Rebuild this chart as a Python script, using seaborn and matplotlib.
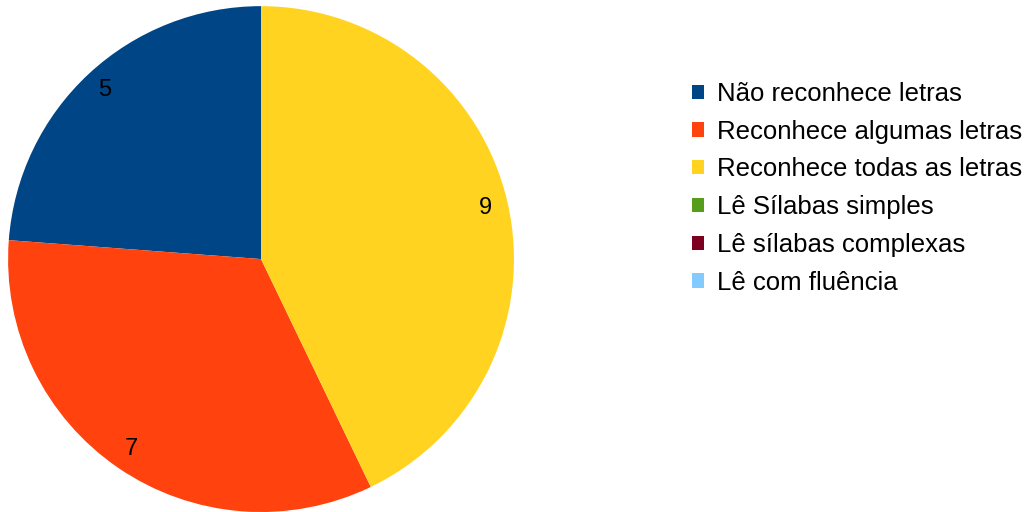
import matplotlib.pyplot as plt
import seaborn as sns

sns.set_theme(style="white")
plt.rcParams['font.family'] = ['Liberation Sans', 'DejaVu Sans']
plt.rcParams['text.color'] = 'black'

# dados
categorias = ["Não reconhece letras", "Reconhece algumas letras", "Reconhece todas as letras",
              "Lê Sílabas simples", "Lê sílabas complexas", "Lê com fluência"]
valores = [5, 7, 9, 0, 0, 0]
cores = ["#004586", "#ff420e", "#ffd320", "#579d1c", "#7e0021", "#83caff"]

total = sum(valores)


def rotulo(pct):
    v = int(round(pct * total / 100))
    return str(v) if v > 0 else ""


fig = plt.figure(figsize=(10.35, 5.12), dpi=100)
ax = fig.add_axes([0.0077, 0.0, 0.489, 0.988])

wedges, textos, numeros = ax.pie(valores, colors=cores, startangle=90, counterclock=True,
                                 autopct=rotulo, pctdistance=0.91, radius=1,
                                 wedgeprops={"linewidth": 0},
                                 textprops={"fontsize": 17, "color": "black"})
ax.set_xlim(-1, 1)
ax.set_ylim(-1, 1)
ax.set_aspect("equal")

fig.legend(wedges, categorias, loc="upper left", bbox_to_anchor=(0.6686, 0.840),
           frameon=False, fontsize=18.5, handlelength=0.47, handleheight=0.47,
           handletextpad=0.5, labelspacing=0.535, borderpad=0, borderaxespad=0,
           labelcolor="black")

plt.savefig("out.png", dpi=100)
